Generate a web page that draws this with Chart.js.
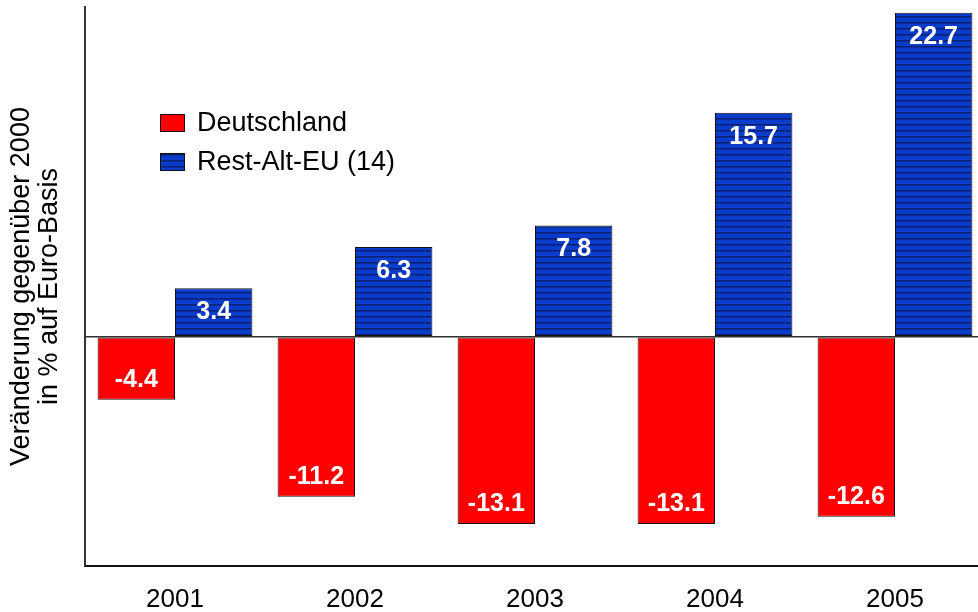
<!DOCTYPE html>
<html>
<head>
<meta charset="utf-8">
<script src="https://cdn.jsdelivr.net/npm/chart.js@4/dist/chart.umd.min.js"></script>
<style>
  html, body { margin: 0; padding: 0; background: #ffffff; overflow: hidden; }
  #wrap { width: 986px; height: 612px; }
</style>
</head>
<body>
<div id="wrap"><canvas id="c" width="986" height="612"></canvas></div>
<script>
const categories = ['2001', '2002', '2003', '2004', '2005'];
const deutschland = [-4.4, -11.2, -13.1, -13.1, -12.6];
const restAltEU = [3.4, 6.3, 7.8, 15.7, 22.7];
const seriesNames = ['Deutschland', 'Rest-Alt-EU (14)'];
const yTitle = ['Veränderung gegenüber 2000', 'in % auf Euro-Basis'];

const FONT = "'Liberation Sans', Arial, sans-serif";

function stripePattern() {
  const t = document.createElement('canvas');
  t.width = 8; t.height = 6;
  const g = t.getContext('2d');
  g.fillStyle = '#0b3ccc'; g.fillRect(0, 0, 8, 6);
  g.fillStyle = '#0c2270'; g.fillRect(0, 4, 8, 1);
  g.fillStyle = '#0b2c9c'; g.fillRect(0, 5, 8, 1);
  return document.getElementById('c').getContext('2d').createPattern(t, 'repeat');
}
const bluePattern = stripePattern();

const valueLabels = {
  id: 'valueLabels',
  afterDatasetsDraw(chart) {
    const ctx = chart.ctx;
    ctx.save();
    ctx.font = "bold 25px " + FONT;
    ctx.fillStyle = '#ffffff';
    ctx.textAlign = 'center';
    ctx.textBaseline = 'middle';
    chart.data.datasets.forEach((ds, di) => {
      chart.getDatasetMeta(di).data.forEach((bar, i) => {
        const v = ds.data[i];
        const y = v >= 0 ? bar.y + 24 : bar.y - 20;
        ctx.fillText(v.toFixed(1), bar.x, y);
      });
    });
    ctx.restore();
  }
};

const customLegend = {
  id: 'customLegend',
  afterDraw(chart) {
    const ctx = chart.ctx;
    ctx.save();
    const x0 = 160, y0 = 123, gap = 39;
    chart.data.datasets.forEach((ds, i) => {
      const cy = y0 + i * gap;
      ctx.fillStyle = ds.backgroundColor;
      ctx.fillRect(x0, cy - 9, 25, 18);
      ctx.strokeStyle = '#111';
      ctx.lineWidth = 1;
      ctx.strokeRect(x0 + 0.5, cy - 8.5, 24, 17);
      ctx.fillStyle = '#000';
      ctx.font = "27px " + FONT;
      ctx.textAlign = 'left';
      ctx.textBaseline = 'middle';
      ctx.fillText(ds.label, x0 + 37, cy + 1);
    });
    ctx.restore();
  }
};

new Chart(document.getElementById('c'), {
  type: 'bar',
  data: {
    labels: categories,
    datasets: [
      { label: seriesNames[0], data: deutschland, backgroundColor: '#ff0000',
        borderColor: '#111', borderWidth: 1, borderSkipped: false },
      { label: seriesNames[1], data: restAltEU, backgroundColor: bluePattern,
        borderColor: '#111', borderWidth: 1, borderSkipped: false }
    ]
  },
  options: {
    responsive: false,
    animation: false,
    devicePixelRatio: 1,
    layout: { padding: { left: 0, top: 7, right: 1, bottom: 0 } },
    plugins: { legend: { display: false }, tooltip: { enabled: false } },
    datasets: { bar: { categoryPercentage: 0.86, barPercentage: 1.0 } },
    scales: {
      x: {
        grid: { display: false, drawTicks: false },
        border: { display: true, color: '#111', width: 2 },
        ticks: { color: '#000', font: { family: FONT, size: 26 }, padding: 18 },
        afterFit(s) { s.height = 46; }
      },
      y: {
        min: -16.05,
        max: 23.1,
        afterBuildTicks(s) { s.ticks = [{ value: 0 }]; },
        ticks: { display: false },
        grid: { display: true, drawTicks: false, color: '#333', lineWidth: 1.5 },
        border: { display: true, color: '#333', width: 2 },
        title: {
          display: true, text: yTitle, color: '#000',
          font: { family: FONT, size: 27, lineHeight: 28 / 27 },
          padding: { top: 8, bottom: 21 }
        },
        afterFit(s) { s.width = 85; }
      }
    }
  },
  plugins: [valueLabels, customLegend]
});
</script>
</body>
</html>
